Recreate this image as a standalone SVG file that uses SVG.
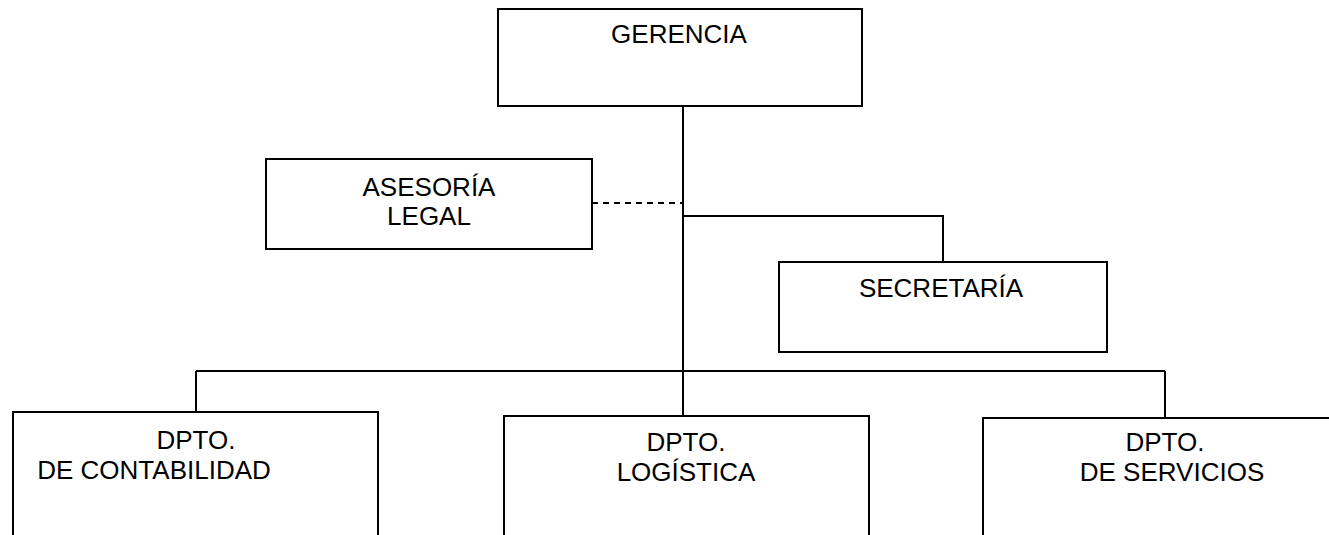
<svg xmlns="http://www.w3.org/2000/svg" width="1329" height="535" viewBox="0 0 1329 535">
<style>
.box{fill:#fff;stroke:#000;stroke-width:2}
.t{font-family:"Liberation Sans",Arial,sans-serif;font-size:26px;fill:#000;text-anchor:middle}
.c{fill:none;stroke:#000;stroke-width:2}
.d{fill:none;stroke:#000;stroke-width:2;stroke-dasharray:6 5}
</style>
<rect width="1329" height="535" fill="#fff"/>
<g id="connectors">
<path class="c" d="M683 106 V416"/>
<path class="c" d="M683 216 H943 V262"/>
<path class="d" d="M592 203 H683"/>
<path class="c" d="M196 371 H1165"/>
<path class="c" d="M196 371 V412"/>
<path class="c" d="M1165 371 V418"/>
</g>
<g id="gerencia">
<rect class="box" x="498" y="9" width="364" height="97"/>
<text class="t" x="679" y="43">GERENCIA</text>
</g>
<g id="asesoria">
<rect class="box" x="266" y="159" width="326" height="90"/>
<text class="t" x="429" y="196">ASESORÍA</text>
<text class="t" x="429" y="225">LEGAL</text>
</g>
<g id="secretaria">
<rect class="box" x="779" y="262" width="328" height="90"/>
<text class="t" x="941" y="297">SECRETARÍA</text>
</g>
<g id="contabilidad">
<rect class="box" x="13" y="412" width="365" height="140"/>
<text class="t" x="196" y="449">DPTO.</text>
<text class="t" x="154" y="479">DE CONTABILIDAD</text>
</g>
<g id="logistica">
<rect class="box" x="504" y="416" width="365" height="140"/>
<text class="t" x="686" y="451">DPTO.</text>
<text class="t" x="686" y="481">LOGÍSTICA</text>
</g>
<g id="servicios">
<rect class="box" x="983" y="418" width="360" height="140"/>
<text class="t" x="1165" y="451">DPTO.</text>
<text class="t" x="1172" y="481">DE SERVICIOS</text>
</g>
</svg>
